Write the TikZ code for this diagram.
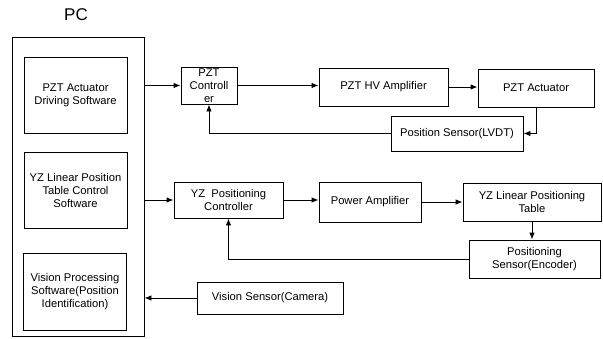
\documentclass[tikz,border=0pt]{standalone}
\usepackage{fontspec}
\setmainfont{Liberation Sans}
\usetikzlibrary{arrows.meta, positioning}

\begin{document}
\begin{tikzpicture}[
  x=1pt, y=-1pt,
  blk/.style={draw, line width=0.9pt, align=center, inner sep=1pt,
    font=\fontsize{11.2}{13}\selectfont},
  arr/.style={-{Latex[length=7pt,width=5.5pt]}, line width=0.9pt},
]
  \useasboundingbox (0,0) rectangle (603,338);
  % PC side
  \node[draw, line width=0.9pt, minimum width=132pt, minimum height=299pt]
    (pc) at (78,186.5) {};
  \node[font=\fontsize{17}{20}\selectfont] (pclbl) at (76,15) {PC};
  \node[blk, minimum width=103pt, minimum height=76pt] (drv) at (75.5,95)
    {PZT Actuator\\Driving Software};
  \node[blk, minimum width=103pt, minimum height=76pt] (tabsw) at (75.5,190)
    {YZ Linear Position\\Table Control\\Software};
  \node[blk, minimum width=103pt, minimum height=77pt] (vissw) at (75,291.5)
    {Vision Processing\\Software(Position\\Identification)};

  % PZT loop
  \node[blk, minimum width=56pt, minimum height=37pt] (pztc) at (209,85.5)
    {PZT\\Controll\\er};
  \node[blk, minimum width=129pt, minimum height=38pt] (hv) at (383.5,87)
    {PZT HV Amplifier};
  \node[blk, minimum width=116pt, minimum height=38pt] (act) at (536,88)
    {PZT Actuator};
  \node[blk, minimum width=132pt, minimum height=35pt] (lvdt) at (457,133.5)
    {Position Sensor(LVDT)};

  % YZ loop
  \node[blk, minimum width=109pt, minimum height=36pt] (yzc) at (228.5,200)
    {YZ~~Positioning\\Controller};
  \node[blk, minimum width=102pt, minimum height=40pt] (pamp) at (370,202)
    {Power Amplifier};
  \node[blk, minimum width=138pt, minimum height=38pt] (ytab) at (532,202)
    {YZ Linear Positioning\\Table};
  \node[blk, minimum width=131pt, minimum height=38pt] (enc) at (534.5,259)
    {Positioning\\Sensor(Encoder)};

  % vision
  \node[blk, minimum width=146pt, minimum height=32pt] (cam) at (270,298)
    {Vision Sensor(Camera)};

  \draw[arr] (pztc.west -| pc.east) -- (pztc.west);
  \draw[arr] (pztc.east) -- (pztc.east -| hv.west);
  \draw[arr] (hv.east) -- (hv.east -| act.west);
  \draw[arr] (act.south) |- (lvdt.east);
  \draw[arr] (lvdt.west) -| (pztc.south);

  \draw[arr] (yzc.west -| pc.east) -- (yzc.west);
  \draw[arr] (yzc.east) -- (yzc.east -| pamp.west);
  \draw[arr] (pamp.east) -- (pamp.east -| ytab.west);
  \draw[arr] (ytab.south) -- (ytab.south |- enc.north);
  \draw[arr] (enc.west) -| (yzc.south);

  \draw[arr] (cam.west) -- (cam.west -| pc.east);
\end{tikzpicture}
\end{document}
